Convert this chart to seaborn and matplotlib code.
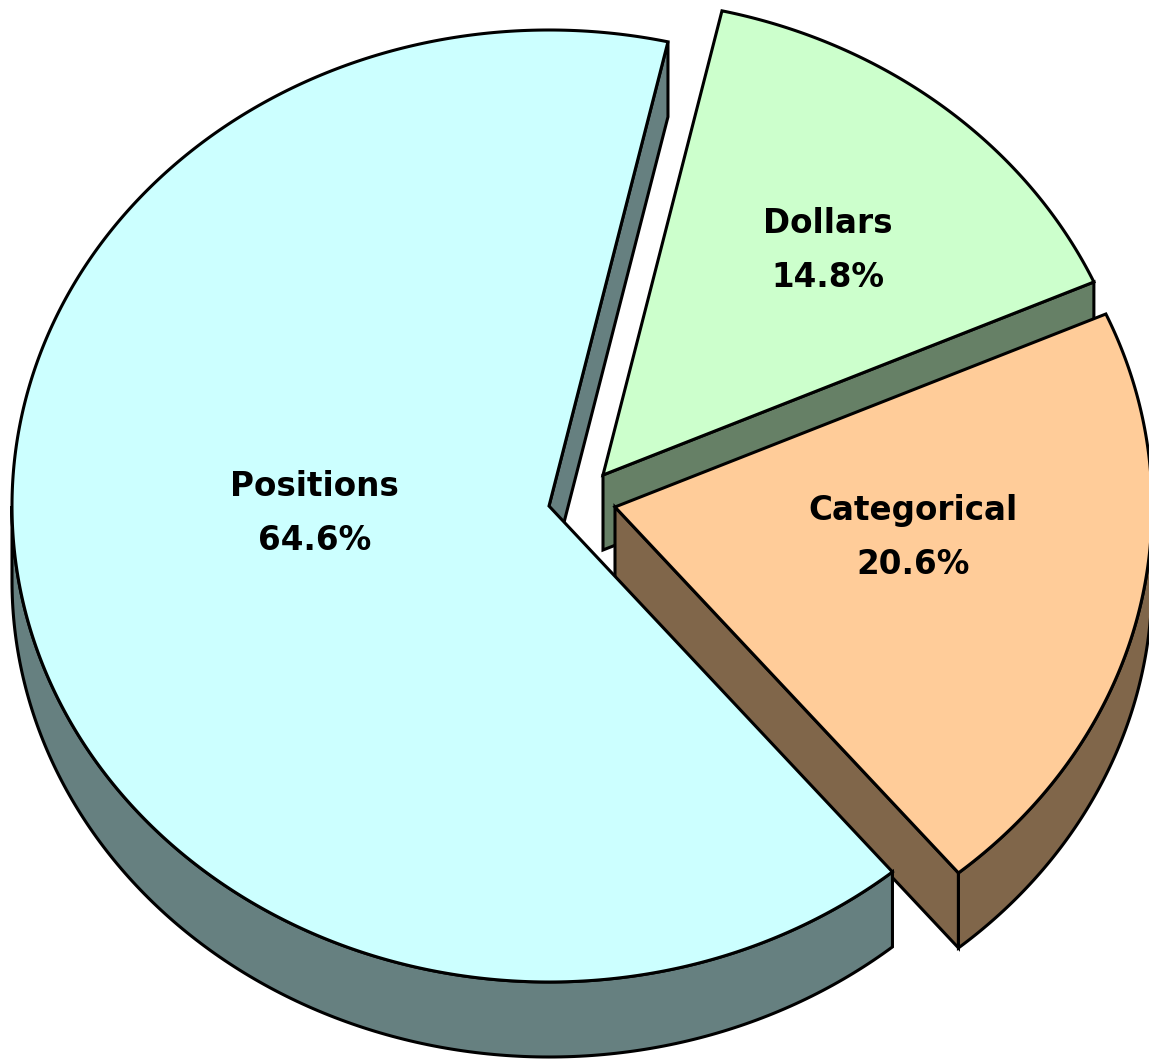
import numpy as np
import matplotlib
matplotlib.use("Agg")
import matplotlib.pyplot as plt
import seaborn as sns
from matplotlib.patches import Polygon

# data
categories = ["Positions", "Categorical", "Dollars"]
shares = [64.6, 20.6, 14.8]

# look of each slice: top face and side colour
top_colors = ["#CCFFFF", "#FFCC99", "#CCFFCC"]
side_colors = ["#668080", "#80664A", "#668066"]

# layout (pixels, y down)
W, H = 1149, 1060
cx, cy = 549, 506
rx, ry = 537, 476
depth = 75
start_angle = 77.2
explode = [(0, 0), (66, 1), (54, -31)]
label_off = [(-0.436, -0.015), (0.555, -0.065), (0.419, 0.471)]

sns.set_theme(style="white")
plt.rcParams["font.family"] = ["DejaVu Sans"]

fig = plt.figure(figsize=(W / 100, H / 100), dpi=100)
ax = fig.add_axes([0, 0, 1, 1])
ax.set_xlim(0, W)
ax.set_ylim(H, 0)
ax.axis("off")


def rim(ox, oy, th, dz=0):
    t = np.radians(th)
    return np.column_stack([cx + ox + rx * np.cos(t), cy + oy - ry * np.sin(t) + dz])


def draw(poly, fc):
    ax.add_patch(Polygon(poly, closed=True, facecolor=fc, edgecolor="black",
                         lw=2.2, joinstyle="miter"))


# slice angles (counterclockwise)
bounds = []
a = start_angle
for v in shares:
    b = a + v / 100 * 360
    bounds.append((a, b))
    a = b

order = sorted(range(len(shares)),
               key=lambda i: -np.sin(np.radians(sum(bounds[i]) / 2)))

for i in order:
    a, b = bounds[i]
    ox, oy = explode[i]
    apex = np.array([[cx + ox, cy + oy]])
    apex_low = apex + [0, depth]
    # radial face at start edge
    if np.cos(np.radians(a)) > 0:
        p = rim(ox, oy, [a])
        draw(np.vstack([apex, p, p + [0, depth], apex_low]), side_colors[i])
    if np.cos(np.radians(b)) < 0:
        p = rim(ox, oy, [b])
        draw(np.vstack([apex, p, p + [0, depth], apex_low]), side_colors[i])
    # outer wall, front half only
    for k in range(-1, 3):
        lo, hi = max(a, 180 + 360 * k), min(b, 360 + 360 * k)
        if hi > lo:
            th = np.linspace(lo, hi, 200)
            top = rim(ox, oy, th)
            draw(np.vstack([top, top[::-1] + [0, depth]]), side_colors[i])
    # top face
    th = np.linspace(a, b, 400)
    draw(np.vstack([apex, rim(ox, oy, th)]), top_colors[i])
    # label
    lx = cx + ox + label_off[i][0] * rx
    ly = cy + oy - label_off[i][1] * ry
    ax.text(lx, ly - 27, categories[i], ha="center", va="center",
            fontsize=23.5, fontweight="bold", color="black")
    ax.text(lx, ly + 27, f"{shares[i]:.1f}%", ha="center", va="center",
            fontsize=23.5, fontweight="bold", color="black")

fig.savefig("out.png", dpi=100, facecolor="white")
